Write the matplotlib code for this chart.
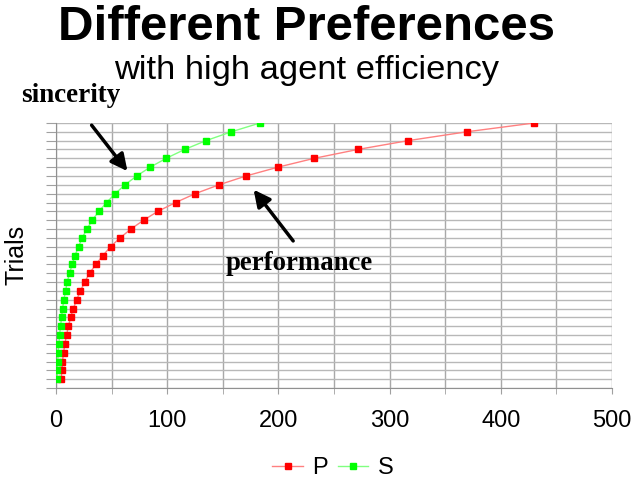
import matplotlib
matplotlib.use("Agg")
import matplotlib.pyplot as plt
from matplotlib.ticker import MultipleLocator

plt.rcParams["font.family"] = ["Liberation Sans", "DejaVu Sans"]

# trials 1..30 (bottom to top)
trials = list(range(1, 31))
p_values = [4.7, 5.3, 5.8, 6.8, 8.0, 9.5, 11.2, 13.2, 15.6, 18.6,
            22.0, 25.8, 30.2, 35.9, 42.2, 49.1, 57.7, 67.4, 78.8, 91.6,
            107.6, 125.2, 146.5, 170.8, 199.6, 232.2, 271.2, 316.5, 369.2, 430.0]
s_values = [1.1, 1.3, 1.6, 2.0, 2.6, 3.2, 4.1, 5.0, 5.9, 7.1,
            8.6, 10.1, 12.2, 14.6, 17.0, 20.3, 23.6, 27.8, 32.6, 38.6,
            45.5, 53.2, 62.0, 72.5, 84.7, 99.1, 115.6, 134.8, 157.6, 183.4]

title = "Different Preferences"
subtitle = "with high agent efficiency"
series_names = ["P", "S"]

fig = plt.figure(figsize=(6.31, 4.78), dpi=100)
ax = fig.add_axes([56 / 631, 1 - 388 / 478, 556 / 631, 265 / 478])

ax.plot(p_values, trials, color="#ff8080", lw=1, marker="s", ms=4.5,
        mfc="#ff0000", mec="#ff0000", label=series_names[0], zorder=3)
ax.plot(s_values, trials, color="#80ff80", lw=1, marker="s", ms=4.5,
        mfc="#00ff00", mec="#00ff00", label=series_names[1], zorder=3)

ax.set_xlim(0, 500)
ax.set_ylim(0, 30)
ax.xaxis.set_major_locator(MultipleLocator(100))
ax.xaxis.set_minor_locator(MultipleLocator(50))
ax.yaxis.set_major_locator(MultipleLocator(1))
ax.set_yticklabels([])
ax.grid(axis="y", which="major", color="#b8b8b8", lw=1)
ax.grid(axis="x", which="both", color="#a8a8a8", lw=1)
ax.set_axisbelow(True)
for s in ["top", "right"]:
    ax.spines[s].set_visible(False)
ax.spines["left"].set_color("#909090")
ax.spines["bottom"].set_color("#909090")
ax.tick_params(axis="y", length=7, color="#a0a0a0", direction="out")
ax.tick_params(axis="x", which="both", length=4, color="#a0a0a0",
               labelsize=17, pad=12)
fig.text(16 / 631, 1 - 255 / 478, "Trials", rotation=90, ha="center",
         va="center", fontsize=18)

fig.text(307 / 631, 1 - 27 / 478, title, ha="center", va="center",
         fontsize=35.5, fontweight="bold")
fig.text(307 / 631, 1 - 70 / 478, subtitle, ha="center", va="center",
         fontsize=24.8)

ax.annotate("", xy=(65.8, 24.3), xytext=(30.5, 30.0),
            arrowprops=dict(arrowstyle="-|>", lw=2.5, color="black",
                            mutation_scale=25), annotation_clip=False)
ax.annotate("", xy=(176.2, 22.7), xytext=(214.8, 16.4),
            arrowprops=dict(arrowstyle="-|>", lw=2.5, color="black",
                            mutation_scale=25), annotation_clip=False)
fig.text(71 / 631, 1 - 96 / 478, "sincerity", ha="center", va="center",
         fontsize=19.5, fontweight="bold", family="Liberation Serif")
fig.text(299 / 631, 1 - 263 / 478, "performance", ha="center", va="center",
         fontsize=19.3, fontweight="bold", family="Liberation Serif")

fig.legend(loc="center", bbox_to_anchor=(333 / 631, 1 - 468 / 478), ncol=2,
           frameon=False, fontsize=17, handlelength=1.3, handletextpad=0.4,
           columnspacing=0.4)

fig.savefig("out.png", dpi=100)
